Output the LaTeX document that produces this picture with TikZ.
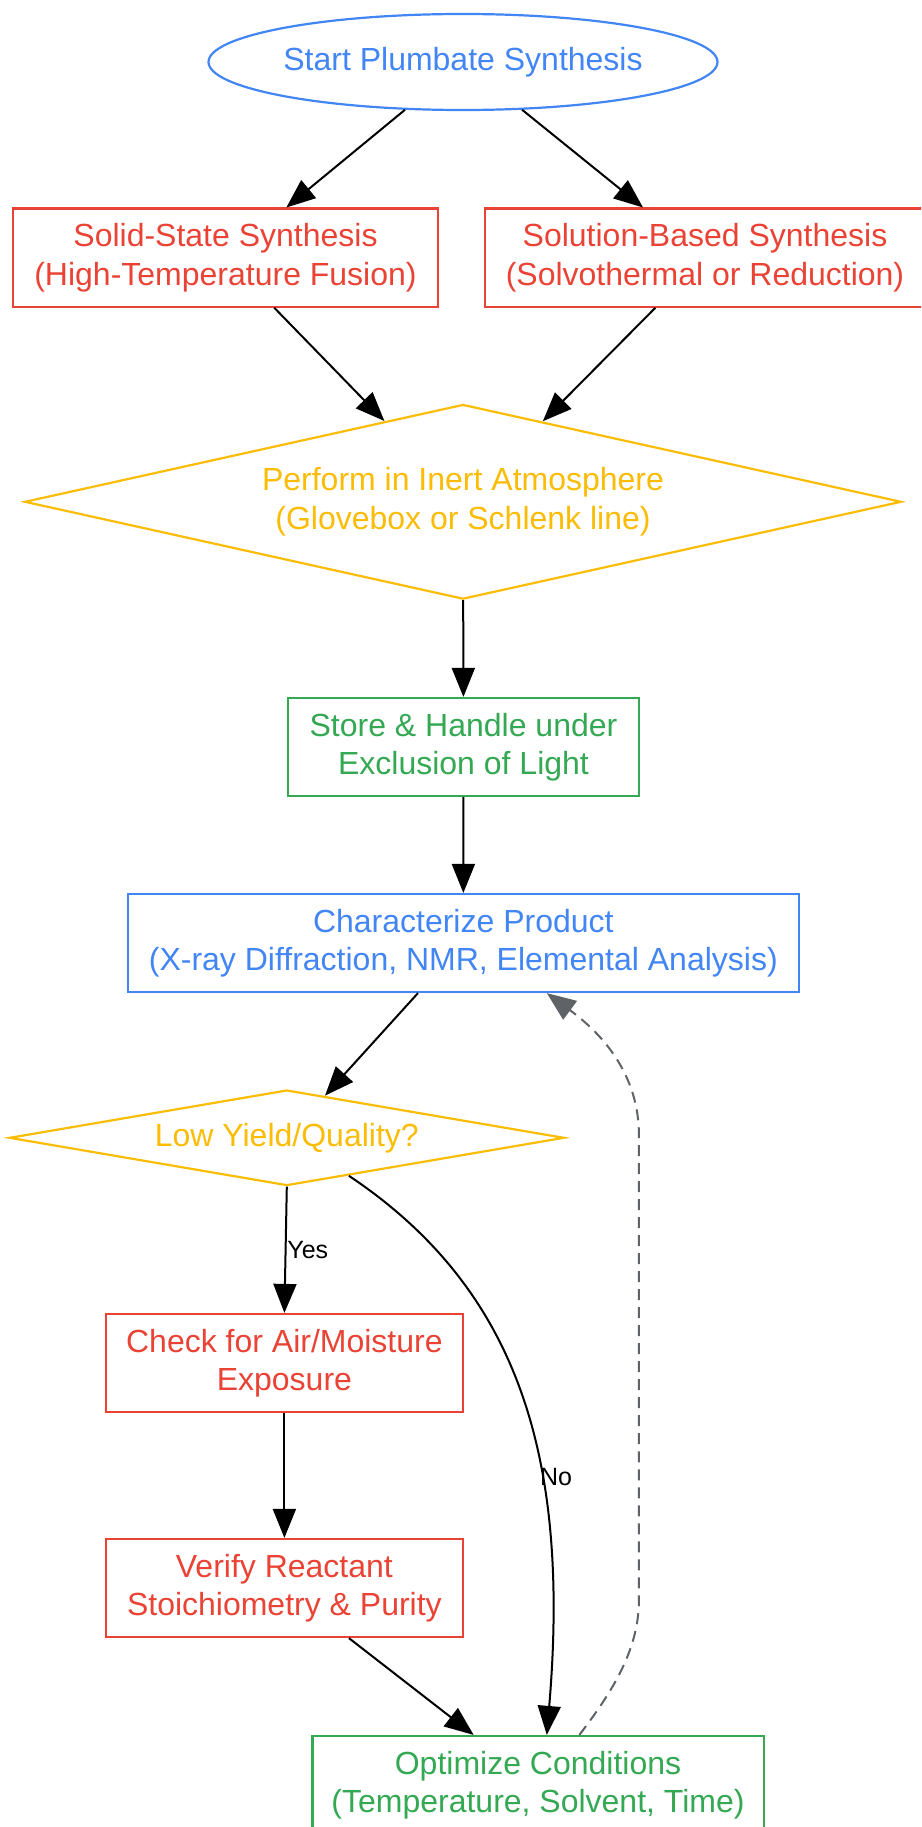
\documentclass[tikz,border=0pt]{standalone}
\usepackage{fontspec}
\setmainfont{Liberation Sans}
\usetikzlibrary{shapes.geometric,arrows.meta,calc}
\definecolor{gblue}{HTML}{4285F4}
\definecolor{gred}{HTML}{EA4335}
\definecolor{gyellow}{HTML}{FBBC05}
\definecolor{ggreen}{HTML}{34A853}
\definecolor{ggray}{HTML}{5F6368}
\tikzset{
  base/.style={draw, line width=2.2pt, inner sep=0pt, align=center, font=\fontsize{32}{38.4}\selectfont},
  boxsty/.style={base, rectangle, minimum height=98pt},
  redbox/.style={boxsty, draw=gred, text=gred},
  greenbox/.style={boxsty, draw=ggreen, text=ggreen},
  bluebox/.style={boxsty, draw=gblue, text=gblue},
  startsty/.style={base, ellipse, draw=gblue, text=gblue},
  decide/.style={base, diamond, draw=gyellow, text=gyellow},
  arr/.style={line width=2pt, -{Triangle[length=29pt,width=23pt]}},
  backarr/.style={line width=2pt, draw=ggray, dash pattern=on 11pt off 7pt, -{Triangle[length=29pt,width=23pt,fill=ggray]}},
  lbl/.style={font=\fontsize{25}{30}\selectfont, inner sep=0pt}
}
\begin{document}
\begin{tikzpicture}[x=1pt,y=-1pt]
\useasboundingbox (0,0) rectangle (921,1827);
\clip (0,0) rectangle (921,1827);
\node[startsty, minimum width=509pt, minimum height=96pt] (start) at (463,62) {Start Plumbate Synthesis};
\node[redbox, minimum width=425.5pt] (solid) at (225.5,257.6) {Solid-State Synthesis\\(High-Temperature Fusion)};
\node[redbox, minimum width=440pt] (solution) at (705,257.6) {Solution-Based Synthesis\\(Solvothermal or Reduction)};
\node[decide, aspect=4.5, minimum width=876.7pt, minimum height=194.7pt] (inert) at (463,501.8) {Perform in Inert Atmosphere\\(Glovebox or Schlenk line)};
\node[greenbox, minimum width=351pt] (store) at (463.5,747) {Store \& Handle under\\Exclusion of Light};
\node[bluebox, minimum width=670.6pt] (char) at (463.3,943) {Characterize Product\\(X-ray Diffraction, NMR, Elemental Analysis)};
\node[decide, aspect=5.8, minimum width=554.9pt, minimum height=95.6pt] (low) at (286.8,1137.8) {Low Yield/Quality?};
\node[redbox, minimum width=356.8pt] (check) at (284.4,1363) {Check for Air/Moisture\\Exposure};
\node[redbox, minimum width=356.8pt] (verify) at (284.4,1588) {Verify Reactant\\Stoichiometry \& Purity};
\node[greenbox, minimum width=451.2pt] (opt) at (538,1785) {Optimize Conditions\\(Temperature, Solvent, Time)};

\draw[arr] (start) -- (solid);
\draw[arr] (start) -- (solution);
\draw[arr] (solid) -- (inert);
\draw[arr] (solution) -- (inert);
\draw[arr] (inert) -- (store);
\draw[arr] (store) -- (char);
\draw[arr] (char) -- (low);
\draw[arr] (low.south) -- (check.north);
\node[lbl] (yes) at (307.8,1249.7) {Yes};
\draw[arr] (check) -- (verify);
\draw[arr] (verify) -- (opt);
\coordinate (noStart) at ($(low.south)!0.223!(low.east)$);
\draw[arr] (noStart) .. controls (520,1290) and (570,1460) .. ([xshift=8.8pt]opt.north);
\node[lbl] (no) at (556,1477) {No};
\draw[backarr] ([xshift=41.4pt]opt.north) .. controls (612,1692) and (638.9,1650) .. (638.9,1600) -- (638.9,1135) .. controls (638.9,1065) and (590,1025) .. ([xshift=83.5pt]char.south);
\end{tikzpicture}
\end{document}
